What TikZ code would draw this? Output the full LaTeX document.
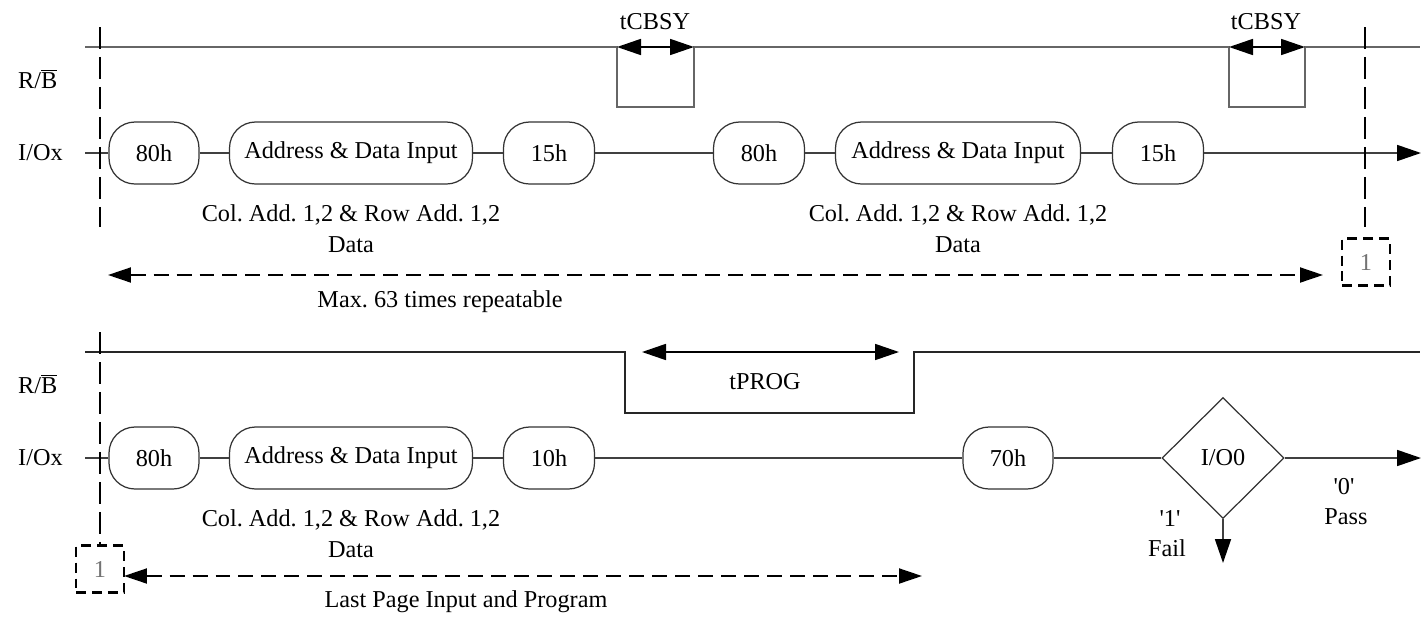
\documentclass[tikz,border=0pt]{standalone}
\usepackage{fontspec}
\setmainfont{Liberation Serif}
\usetikzlibrary{shapes.geometric}
\usetikzlibrary{shapes.misc}
\usetikzlibrary{arrows.meta}
\frenchspacing

\tikzset{
   cmd/.style={
      draw=black!80,
      line width = .7pt,
      rectangle,
      rounded corners = .52cm,
      inner sep = 0pt,
      minimum height = 1.24cm
   },
   check/.style={draw=black!80, line width=.7pt, diamond, aspect=1, inner sep=0pt,
      minimum width=2.44cm, minimum height=2.42cm},
   wire/.style={draw=black!75, line width=.9pt},
   rbtop/.style={draw=black!60, line width=1.1pt},
   rbbot/.style={draw=black!85, line width=1.1pt},
   tarrow/.style={line width=1pt, {Triangle[length=.48cm,width=.32cm]}-{Triangle[length=.48cm,width=.32cm]}},
   harrow/.style={line width=1pt, -{Triangle[length=.48cm,width=.32cm,color=black]}},
   vdash/.style={line width=1.5pt, dash pattern=on .44cm off .16cm},
   darrow/.style={line width=1.1pt, dash pattern=on .3cm off .16cm,
      {Triangle[length=.46cm,width=.3cm]}-{Triangle[length=.46cm,width=.3cm]}},
   dbox/.style={draw, line width=1.5pt, dash pattern=on .2cm off .12cm, text=black!55,
      minimum width=.96cm, minimum height=.94cm, inner sep=0pt}
}

\begin{document}
\begin{tikzpicture}[x=0.02cm, y=-0.02cm, every node/.append style={font=\fontsize{13.8}{16}\selectfont}]
   \useasboundingbox (0,0) rectangle (1424,616);

   % signal names
   \node[anchor=west] (rb1) at (12,79) {R/$\overline{\hbox{B}}$};
   \node[anchor=west] (io1) at (12,153) {I/Ox};
   \node[anchor=west] (rb2) at (12,384) {R/$\overline{\hbox{B}}$};
   \node[anchor=west] (io2) at (12,458) {I/Ox};

   % top R/B
   \draw[rbtop] (85,47) -| (617,107) -| (694,47) -| (1229,107) -| (1305,47) -- (1420,47);
   \coordinate (ta1) at (617,47); \coordinate (tb1) at (694,47);
   \coordinate (ta2) at (1229,47); \coordinate (tb2) at (1305,47);
   \draw[tarrow] (ta1) -- (tb1);
   \draw[tarrow] (ta2) -- (tb2);
   \node (tc1) at (655,22) {tCBSY};
   \node (tc2) at (1266,22) {tCBSY};

   % top I/O
   \node[cmd, minimum width=1.8cm] (a80) at (154,153) {80h};
   \node[cmd, minimum width=4.86cm] (aaddr) at (351,153) {Address \& Data Input};
   \node[cmd, minimum width=1.82cm] (a15) at (549,153) {15h};
   \node[cmd, minimum width=1.82cm] (b80) at (759,153) {80h};
   \node[cmd, minimum width=4.9cm] (baddr) at (958,153) {Address \& Data Input};
   \node[cmd, minimum width=1.82cm] (b15) at (1158,153) {15h};
   \coordinate (as) at (85,153);
   \coordinate (ae) at (1421,153);
   \foreach \u/\v in {as/a80,a80/aaddr,aaddr/a15,a15/b80,b80/baddr,baddr/b15}
      \draw[wire] (\u) -- (\v);
   \draw[wire, harrow] (b15) -- (ae);

   \node (acol) at (351,215) {Col. Add. 1,2 \& Row Add. 1,2};
   \node (adat) at (351,245) {Data};
   \node (bcol) at (958,215) {Col. Add. 1,2 \& Row Add. 1,2};
   \node (bdat) at (958,245) {Data};

   % repeat
   \draw[vdash] (100,27) -- (100,227);
   \draw[vdash] (1365,27) -- (1365,227);
   \node[dbox] (rep1) at (1366,262) {1};
   \coordinate (ma) at (108,275); \coordinate (mb) at (1323,275);
   \draw[darrow] (ma) -- (mb);
   \node (max) at (440,302) {Max. 63 times repeatable};

   % bottom R/B
   \draw[rbbot] (85,352) -| (625,413) -| (914,352) -- (1420,352);
   \coordinate (pa) at (642,352); \coordinate (pb) at (899,352);
   \draw[tarrow] (pa) -- (pb);
   \node (tprog) at (765,382) {tPROG};

   % bottom I/O
   \node[cmd, minimum width=1.8cm] (c80) at (154,458) {80h};
   \node[cmd, minimum width=4.86cm] (caddr) at (351,458) {Address \& Data Input};
   \node[cmd, minimum width=1.82cm] (c10) at (549,458) {10h};
   \node[cmd, minimum width=1.8cm] (c70) at (1008,458) {70h};
   \node[check] (io0) at (1223,458) {I/O0};
   \coordinate (cs) at (85,458);
   \coordinate (pass) at (1421,458);
   \coordinate (fail) at (1223,563);
   \foreach \u/\v in {cs/c80,c80/caddr,caddr/c10,c10/c70,c70/io0}
      \draw[wire] (\u) -- (\v);
   \draw[wire, harrow] (io0) -- (pass);
   \draw[wire, harrow] (io0.south) -- (fail);
   \node (zero) at (1344,487) {\textquotesingle 0\textquotesingle};
   \node (pas) at (1346,517) {Pass};
   \node (one) at (1170,518) {\textquotesingle 1\textquotesingle};
   \node (fai) at (1167,548) {Fail};

   \node (ccol) at (351,520) {Col. Add. 1,2 \& Row Add. 1,2};
   \node (cdat) at (351,550) {Data};

   % last page
   \node[dbox] (rep2) at (100,569) {1};
   \draw[vdash] (100,332) -- (rep2.north);
   \coordinate (la) at (124,576); \coordinate (lb) at (922,576);
   \draw[darrow] (la) -- (lb);
   \node (last) at (466,602) {Last Page Input and Program};
\end{tikzpicture}
\end{document}
